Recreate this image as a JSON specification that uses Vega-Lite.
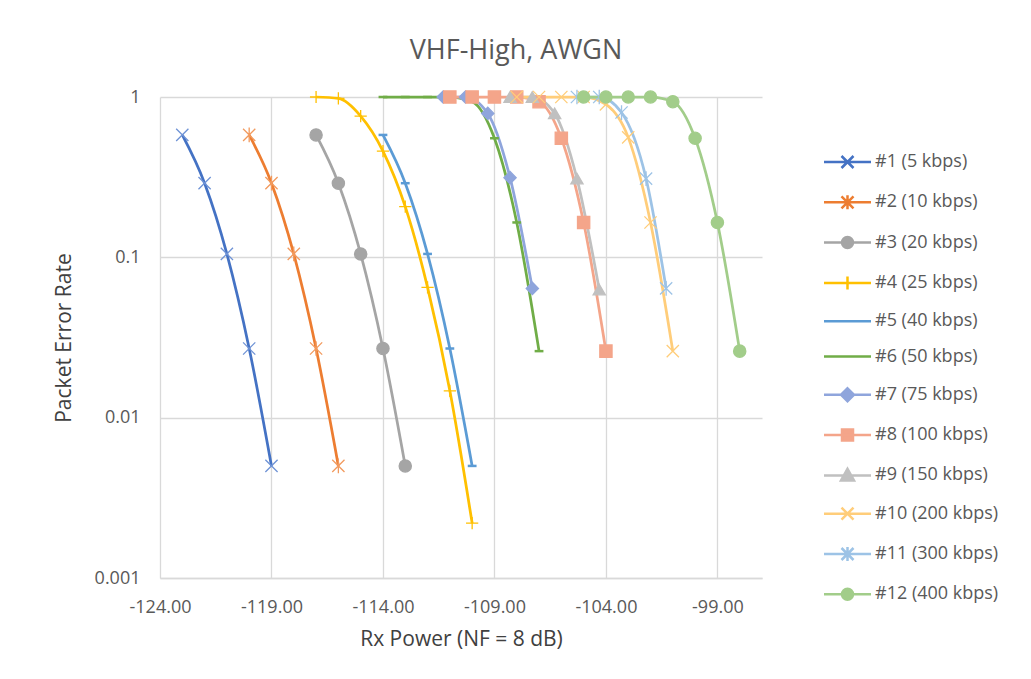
{
  "$schema": "https://vega.github.io/schema/vega-lite/v6.json",
  "autosize": "none",
  "width": 602,
  "height": 481,
  "padding": {"left": 160, "top": 97, "right": 269, "bottom": 101},
  "background": "white",
  "title": {"text": "VHF-High, AWGN", "font": "Open Sans", "fontSize": 27, "fontWeight": "normal", "color": "#595959", "anchor": "middle", "frame": "group", "dx": 55, "offset": 22},
  "config": {"view": {"stroke": null}, "font": "Open Sans"},
  "data": {"values": [
    {"s": "#1 (5 kbps)", "x": -123, "per": 0.58},
    {"s": "#1 (5 kbps)", "x": -122, "per": 0.29},
    {"s": "#1 (5 kbps)", "x": -121, "per": 0.105},
    {"s": "#1 (5 kbps)", "x": -120, "per": 0.027},
    {"s": "#1 (5 kbps)", "x": -119, "per": 0.005},
    {"s": "#2 (10 kbps)", "x": -120, "per": 0.58},
    {"s": "#2 (10 kbps)", "x": -119, "per": 0.29},
    {"s": "#2 (10 kbps)", "x": -118, "per": 0.105},
    {"s": "#2 (10 kbps)", "x": -117, "per": 0.027},
    {"s": "#2 (10 kbps)", "x": -116, "per": 0.005},
    {"s": "#3 (20 kbps)", "x": -117, "per": 0.58},
    {"s": "#3 (20 kbps)", "x": -116, "per": 0.29},
    {"s": "#3 (20 kbps)", "x": -115, "per": 0.105},
    {"s": "#3 (20 kbps)", "x": -114, "per": 0.027},
    {"s": "#3 (20 kbps)", "x": -113, "per": 0.005},
    {"s": "#4 (25 kbps)", "x": -117, "per": 1},
    {"s": "#4 (25 kbps)", "x": -116, "per": 0.98},
    {"s": "#4 (25 kbps)", "x": -115, "per": 0.76},
    {"s": "#4 (25 kbps)", "x": -114, "per": 0.46},
    {"s": "#4 (25 kbps)", "x": -113, "per": 0.207},
    {"s": "#4 (25 kbps)", "x": -112, "per": 0.065},
    {"s": "#4 (25 kbps)", "x": -111, "per": 0.0147},
    {"s": "#4 (25 kbps)", "x": -110, "per": 0.0022},
    {"s": "#5 (40 kbps)", "x": -114, "per": 0.58},
    {"s": "#5 (40 kbps)", "x": -113, "per": 0.29},
    {"s": "#5 (40 kbps)", "x": -112, "per": 0.105},
    {"s": "#5 (40 kbps)", "x": -111, "per": 0.027},
    {"s": "#5 (40 kbps)", "x": -110, "per": 0.005},
    {"s": "#6 (50 kbps)", "x": -114, "per": 1},
    {"s": "#6 (50 kbps)", "x": -113, "per": 1},
    {"s": "#6 (50 kbps)", "x": -112, "per": 1},
    {"s": "#6 (50 kbps)", "x": -111, "per": 1},
    {"s": "#6 (50 kbps)", "x": -110, "per": 0.935},
    {"s": "#6 (50 kbps)", "x": -109, "per": 0.553},
    {"s": "#6 (50 kbps)", "x": -108, "per": 0.165},
    {"s": "#6 (50 kbps)", "x": -107, "per": 0.026},
    {"s": "#7 (75 kbps)", "x": -111.3, "per": 1},
    {"s": "#7 (75 kbps)", "x": -110.3, "per": 1},
    {"s": "#7 (75 kbps)", "x": -109.3, "per": 0.79},
    {"s": "#7 (75 kbps)", "x": -108.3, "per": 0.314},
    {"s": "#7 (75 kbps)", "x": -107.3, "per": 0.064},
    {"s": "#8 (100 kbps)", "x": -111, "per": 1},
    {"s": "#8 (100 kbps)", "x": -110, "per": 1},
    {"s": "#8 (100 kbps)", "x": -109, "per": 1},
    {"s": "#8 (100 kbps)", "x": -108, "per": 1},
    {"s": "#8 (100 kbps)", "x": -107, "per": 0.935},
    {"s": "#8 (100 kbps)", "x": -106, "per": 0.553},
    {"s": "#8 (100 kbps)", "x": -105, "per": 0.165},
    {"s": "#8 (100 kbps)", "x": -104, "per": 0.026},
    {"s": "#9 (150 kbps)", "x": -108.3, "per": 1},
    {"s": "#9 (150 kbps)", "x": -107.3, "per": 1},
    {"s": "#9 (150 kbps)", "x": -106.3, "per": 0.79},
    {"s": "#9 (150 kbps)", "x": -105.3, "per": 0.31},
    {"s": "#9 (150 kbps)", "x": -104.3, "per": 0.063},
    {"s": "#10 (200 kbps)", "x": -108, "per": 1},
    {"s": "#10 (200 kbps)", "x": -107, "per": 1},
    {"s": "#10 (200 kbps)", "x": -106, "per": 1},
    {"s": "#10 (200 kbps)", "x": -105, "per": 1},
    {"s": "#10 (200 kbps)", "x": -104, "per": 0.9},
    {"s": "#10 (200 kbps)", "x": -103, "per": 0.56},
    {"s": "#10 (200 kbps)", "x": -102, "per": 0.165},
    {"s": "#10 (200 kbps)", "x": -101, "per": 0.026},
    {"s": "#11 (300 kbps)", "x": -105.3, "per": 1},
    {"s": "#11 (300 kbps)", "x": -104.3, "per": 1},
    {"s": "#11 (300 kbps)", "x": -103.3, "per": 0.8},
    {"s": "#11 (300 kbps)", "x": -102.2, "per": 0.31},
    {"s": "#11 (300 kbps)", "x": -101.3, "per": 0.064},
    {"s": "#12 (400 kbps)", "x": -105, "per": 1},
    {"s": "#12 (400 kbps)", "x": -104, "per": 1},
    {"s": "#12 (400 kbps)", "x": -103, "per": 1},
    {"s": "#12 (400 kbps)", "x": -102, "per": 1},
    {"s": "#12 (400 kbps)", "x": -101, "per": 0.935},
    {"s": "#12 (400 kbps)", "x": -100, "per": 0.553},
    {"s": "#12 (400 kbps)", "x": -99, "per": 0.165},
    {"s": "#12 (400 kbps)", "x": -98, "per": 0.026}
  ]},
  "encoding": {
    "x": {"field": "x", "type": "quantitative",
      "scale": {"domain": [-124, -97], "nice": false, "zero": false},
      "axis": {"values": [-124, -119, -114, -109, -104, -99], "labelExpr": "'-' + format(abs(datum.value), '.2f')", "labelFlush": false,
        "title": "Rx Power (NF = 8 dB)", "grid": true, "gridColor": "#D9D9D9", "gridWidth": 1.3,
        "domainColor": "#D9D9D9", "domainWidth": 1.3, "ticks": false,
        "labelFont": "Open Sans", "labelFontSize": 18, "labelColor": "#595959", "labelPadding": 20,
        "titleFont": "Open Sans", "titleFontSize": 21, "titleFontWeight": "normal", "titleColor": "#404040", "titlePadding": 12}},
    "y": {"field": "per", "type": "quantitative",
      "scale": {"type": "log", "domain": [0.001, 1], "nice": false},
      "axis": {"values": [0.001, 0.01, 0.1, 1], "format": "~g",
        "title": "Packet Error Rate", "grid": true, "gridColor": "#D9D9D9", "gridWidth": 1.3,
        "domain": false, "ticks": false,
        "labelFont": "Open Sans", "labelFontSize": 18, "labelColor": "#595959", "labelPadding": 20,
        "titleFont": "Open Sans", "titleFontSize": 21, "titleFontWeight": "normal", "titleColor": "#404040", "titlePadding": 20}}
  },
  "layer": [
    {
      "mark": {"type": "line", "interpolate": "monotone", "strokeWidth": 2.75},
      "encoding": {
        "color": {"field": "s", "type": "nominal",
          "scale": {
            "domain": ["#1 (5 kbps)", "#2 (10 kbps)", "#3 (20 kbps)", "#4 (25 kbps)", "#5 (40 kbps)", "#6 (50 kbps)", "#7 (75 kbps)", "#8 (100 kbps)", "#9 (150 kbps)", "#10 (200 kbps)", "#11 (300 kbps)", "#12 (400 kbps)"],
            "range": ["#4472C4", "#ED7D31", "#A5A5A5", "#FFC000", "#5B9BD5", "#70AD47", "#8FA5DC", "#F4A58A", "#C0C0C0", "#FFCD7A", "#9DC3E6", "#A2CD8A"]},
          "legend": {"title": null, "orient": "none", "legendX": 678.5, "legendY": 56, "padding": 0,
            "symbolSize": 100, "symbolStrokeWidth": 2.5,
            "labelFont": "Open Sans", "labelFontSize": 18, "labelColor": "#595959", "labelOffset": 18.5, "labelLimit": 300,
            "rowPadding": 17.3,
            "encode": {"symbols": {"update": {
              "shape": {"signal": "['M-4.7,0L4.7,0M-1.2,-1.2L1.2,1.2M-1.2,1.2L1.2,-1.2','M-4.7,0L4.7,0M-1.2,-1.2L1.2,1.2M-1.2,1.2L1.2,-1.2M0,-1.4L0,1.4','M-4.7,0L4.7,0M-1.1,0A1.1,1.1,0,1,1,1.1,0A1.1,1.1,0,1,1,-1.1,0Z','M-4.7,0L4.7,0M0,-1.3L0,1.3','M-4.7,0L4.7,0','M-4.7,0L4.7,0','M-4.7,0L4.7,0M0,-1.3L1.3,0L0,1.3L-1.3,0Z','M-4.7,0L4.7,0M-1.1,-1.1L1.1,-1.1L1.1,1.1L-1.1,1.1Z','M-4.7,0L4.7,0M0,-1.3L1.3,1L-1.3,1Z','M-4.7,0L4.7,0M-1.2,-1.2L1.2,1.2M-1.2,1.2L1.2,-1.2','M-4.7,0L4.7,0M-1.2,-1.2L1.2,1.2M-1.2,1.2L1.2,-1.2M0,-1.4L0,1.4','M-4.7,0L4.7,0M-1.1,0A1.1,1.1,0,1,1,1.1,0A1.1,1.1,0,1,1,-1.1,0Z'][indexof(['#1 (5 kbps)','#2 (10 kbps)','#3 (20 kbps)','#4 (25 kbps)','#5 (40 kbps)','#6 (50 kbps)','#7 (75 kbps)','#8 (100 kbps)','#9 (150 kbps)','#10 (200 kbps)','#11 (300 kbps)','#12 (400 kbps)'], datum.value)]"},
              "fill": {"signal": "['transparent','transparent','#A5A5A5','transparent','transparent','transparent','#8FA5DC','#F4A58A','#C0C0C0','transparent','transparent','#A2CD8A'][indexof(['#1 (5 kbps)','#2 (10 kbps)','#3 (20 kbps)','#4 (25 kbps)','#5 (40 kbps)','#6 (50 kbps)','#7 (75 kbps)','#8 (100 kbps)','#9 (150 kbps)','#10 (200 kbps)','#11 (300 kbps)','#12 (400 kbps)'], datum.value)]"},
              "stroke": {"scale": "color", "field": "value"},
              "strokeWidth": {"value": 2.5},
              "size": {"value": 100},
              "opacity": {"value": 1}
            }}}
          }
        }
      }
    },
    {
      "transform": [{"filter": "datum.s === '#5 (40 kbps)' || datum.s === '#6 (50 kbps)'"}],
      "mark": {"type": "point", "shape": "M-0.8,0L0.8,0", "filled": false, "strokeWidth": 2.5, "size": 121, "opacity": 1},
      "encoding": {
        "stroke": {"field": "s", "type": "nominal",
          "scale": {"domain": ["#5 (40 kbps)", "#6 (50 kbps)"], "range": ["#5B9BD5", "#70AD47"]}, "legend": null}
      }
    },
    {
      "transform": [{"filter": "datum.s !== '#5 (40 kbps)' && datum.s !== '#6 (50 kbps)'"}],
      "mark": {"type": "point", "filled": true, "strokeWidth": 1.3, "size": 150, "opacity": 1},
      "encoding": {
        "shape": {"field": "s", "type": "nominal",
          "scale": {"domain": ["#1 (5 kbps)", "#2 (10 kbps)", "#3 (20 kbps)", "#4 (25 kbps)", "#7 (75 kbps)", "#8 (100 kbps)", "#9 (150 kbps)", "#10 (200 kbps)", "#11 (300 kbps)", "#12 (400 kbps)"],
            "range": ["M-1,-1L1,1M-1,1L1,-1", "M-1,-1L1,1M-1,1L1,-1M0,-1.2L0,1.2", "circle", "M-1,0L1,0M0,-1L0,1", "diamond", "square", "triangle-up", "M-1,-1L1,1M-1,1L1,-1", "M-1,-1L1,1M-1,1L1,-1M0,-1.2L0,1.2", "circle"]},
          "legend": null},
        "fill": {"field": "s", "type": "nominal",
          "scale": {"domain": ["#1 (5 kbps)", "#2 (10 kbps)", "#3 (20 kbps)", "#4 (25 kbps)", "#7 (75 kbps)", "#8 (100 kbps)", "#9 (150 kbps)", "#10 (200 kbps)", "#11 (300 kbps)", "#12 (400 kbps)"],
            "range": ["transparent", "transparent", "#A5A5A5", "transparent", "#8FA5DC", "#F4A58A", "#C0C0C0", "transparent", "transparent", "#A2CD8A"]},
          "legend": null},
        "stroke": {"field": "s", "type": "nominal",
          "scale": {"domain": ["#1 (5 kbps)", "#2 (10 kbps)", "#3 (20 kbps)", "#4 (25 kbps)", "#7 (75 kbps)", "#8 (100 kbps)", "#9 (150 kbps)", "#10 (200 kbps)", "#11 (300 kbps)", "#12 (400 kbps)"],
            "range": ["#6F93D6", "#F29A5E", "#A5A5A5", "#FFC000", "#8FA5DC", "#F4A58A", "#C0C0C0", "#FFCD7A", "#9DC3E6", "#A2CD8A"]},
          "legend": null}
      }
    }
  ],
  "resolve": {"scale": {"stroke": "independent"}}
}
